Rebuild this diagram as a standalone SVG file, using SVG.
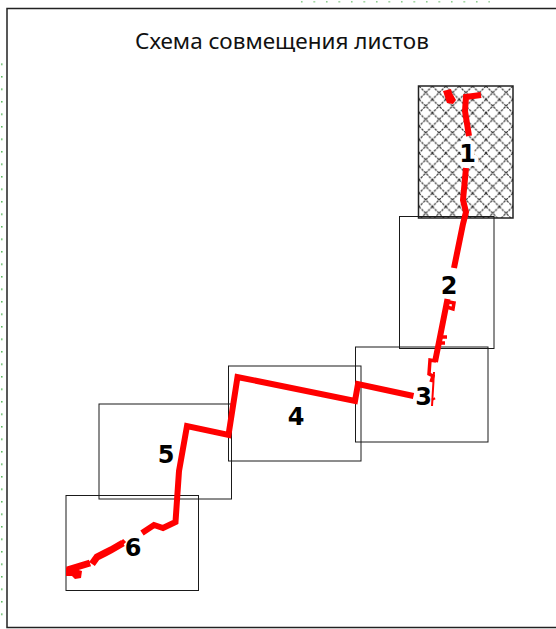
<svg xmlns="http://www.w3.org/2000/svg" width="556" height="629" viewBox="0 0 556 629">
  <style>
    .sheet { fill: none; stroke: #1a1a1a; stroke-width: 1; }
    .route { fill: none; stroke: #ff0000; stroke-width: 6; stroke-linejoin: miter; stroke-linecap: butt; }
    .thin { stroke-width: 3.5; }
    .blob { fill: #ff0000; stroke: none; }
    .num { font-family: "DejaVu Sans", sans-serif; font-weight: bold; font-size: 24px; text-anchor: middle; fill: #000; }
    .halo { paint-order: stroke; stroke: #fff; stroke-width: 8px; stroke-linejoin: round; }
    .title { font-family: "Noto Sans", "Open Sans", sans-serif; font-size: 22.500px; fill: #111; }
  </style>
  <defs>
    <pattern id="hatch" width="13.4" height="13.4" patternUnits="userSpaceOnUse" patternTransform="translate(419 86)">
      <path d="M0 0L13.4 13.4M13.4 0L0 13.4" stroke="#333" stroke-width="1.200" stroke-dasharray="2.500 1" fill="none"/>
    </pattern>
    <pattern id="dots" width="12.5" height="12.5" patternUnits="userSpaceOnUse">
      <rect x="1" y="1" width="1.5" height="1.5" fill="#4caf50"/>
    </pattern>
  </defs>
  <rect width="556" height="629" fill="#fff"/>
  <rect x="0" y="60" width="3" height="560" fill="url(#dots)"/>
  <rect x="300" y="0" width="190" height="6" fill="url(#dots)" opacity="0.7"/>
  <rect id="frame" x="7" y="8.500" width="560" height="619" fill="#fff" stroke="#222" stroke-width="1.500"/>
  <text id="title" class="title" x="135" y="49">Схема совмещения листов</text>

  <g id="sheet-1">
    <rect x="418.500" y="86" width="94.500" height="132" fill="url(#hatch)" stroke="#222" stroke-width="1.500"/>
  </g>
  <g id="sheet-2"><rect class="sheet" x="399.500" y="216.500" width="94.500" height="132"/></g>
  <g id="sheet-3"><rect class="sheet" x="355.500" y="347" width="132.500" height="95"/></g>
  <g id="sheet-4"><rect class="sheet" x="228.500" y="366" width="132.500" height="95"/></g>
  <g id="sheet-5"><rect class="sheet" x="99" y="404" width="132.500" height="95"/></g>
  <g id="sheet-6"><rect class="sheet" x="66" y="495.500" width="132.500" height="95"/></g>

  <g id="connectors">
    <path class="route" d="M481 95L466 97L465 111L469 136"/>
    <path class="blob" d="M443 91L451 89L452 93L456 100L453 104L447 103Z"/>
    <path class="route" d="M466 168L463 200L466 212L463 224L454 268"/>
    <path class="route" d="M447.500 299L438 347L435 362"/>
    <path class="route thin" d="M449 302L454 303L453 309L447 307M441 337L447 337M439 343L445 343M436 361L430 360L429 374L433 376L431 382"/>
    <path class="route" style="stroke-width:2" d="M434 372L432 406"/>
    <path class="route thin" d="M433 398L434 400"/>
    <path class="route" d="M413.500 396L358 384L355 401L237.500 377L228.500 435L187 426L179 471L175.500 522L163 528L154 525L142 533"/>
    <path class="route" d="M124 544L121 541"/>
    <path class="route" style="stroke-width:7" d="M123 543L111 550L105 553L97 557L92 564M90 563L67 570"/>
    <path class="blob" d="M66 568L72 568L82 571L81 578L75 579L72 576L66 576Z"/>
  </g>

  <g id="labels">
    <text class="num halo" x="467.500" y="162">1</text>
    <text class="num" x="449" y="294">2</text>
    <text class="num" x="423.500" y="405">3</text>
    <text class="num" x="296" y="425">4</text>
    <text class="num" x="166" y="463">5</text>
    <text class="num" x="133" y="556">6</text>
  </g>
</svg>
